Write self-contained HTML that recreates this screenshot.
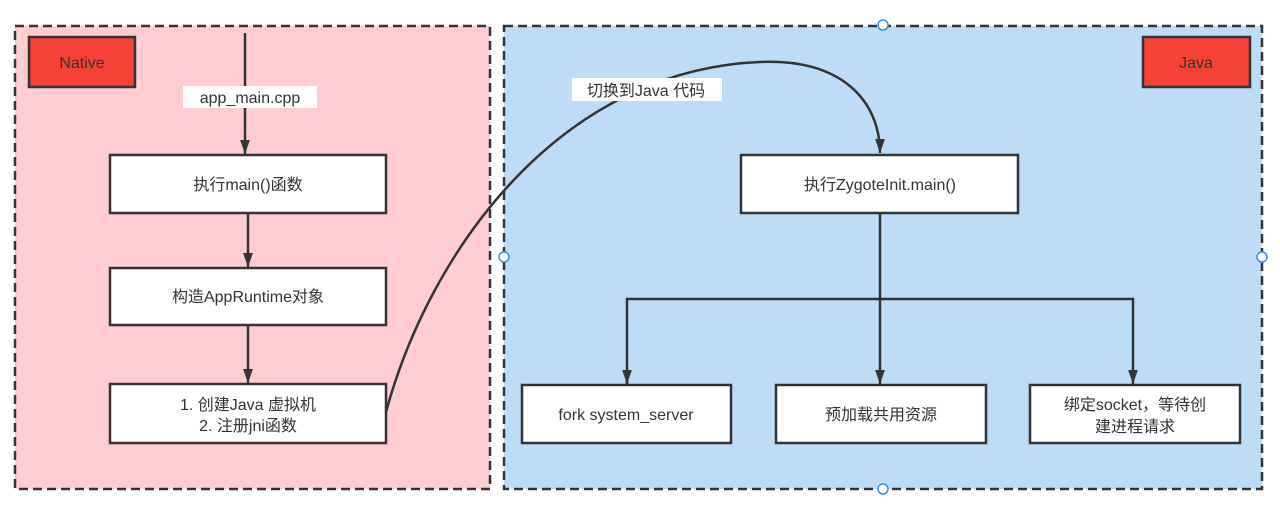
<!DOCTYPE html>
<html><head><meta charset="utf-8"><style>
body{margin:0;width:1280px;height:520px;background:#fff;overflow:hidden}
svg text{font-family:"Liberation Sans","Noto Sans CJK SC",sans-serif;font-size:16px;fill:#333}
</style></head><body>
<svg width="1280" height="520" xmlns="http://www.w3.org/2000/svg">
<defs><marker id="b" viewBox="0 0 10 10" refX="10" refY="5" markerWidth="14" markerHeight="14" orient="auto" markerUnits="userSpaceOnUse"><path d="M0,1.5 L10,5 L0,8.5 z" fill="#333"/></marker></defs>
<rect x="15" y="26" width="475" height="463" fill="#ffccd1" stroke="#333" stroke-width="2.5" stroke-dasharray="9,5"/>
<rect x="504" y="26" width="758" height="463" fill="#bcdcf8" stroke="#333" stroke-width="2.5" stroke-dasharray="9,5"/>
<rect x="29" y="37" width="106" height="50" fill="#f44336" stroke="#333" stroke-width="2.5"/>
<text x="82" y="68" text-anchor="middle">Native</text>
<rect x="1143" y="37" width="107" height="50" fill="#f44336" stroke="#333" stroke-width="2.5"/>
<text x="1196" y="68" text-anchor="middle">Java</text>
<g stroke="#333" stroke-width="2.5" fill="none">
<line x1="245" y1="33" x2="245" y2="154" marker-end="url(#b)"/>
<line x1="248" y1="213" x2="248" y2="267" marker-end="url(#b)"/>
<line x1="248" y1="325" x2="248" y2="383" marker-end="url(#b)"/>
<line x1="880" y1="213" x2="880" y2="384" marker-end="url(#b)"/>
<polyline points="627,384 627,299 1133,299 1133,384" marker-end="url(#b)"/>
<line x1="627" y1="370" x2="627" y2="384" marker-end="url(#b)"/>
<path d="M386,412 C430,250 560,70 760,62 C840,58 880,100 880,153" marker-end="url(#b)"/>
</g>
<rect x="183" y="86" width="134" height="22" fill="#fff"/>
<text x="250" y="103" text-anchor="middle">app_main.cpp</text>
<rect x="572" y="78" width="150" height="23" fill="#fff"/>
<text x="646" y="96" text-anchor="middle">切换到Java 代码</text>
<g fill="#fff" stroke="#333" stroke-width="2.5">
<rect x="110" y="155" width="276" height="58"/>
<rect x="110" y="268" width="276" height="57"/>
<rect x="110" y="384" width="276" height="59"/>
<rect x="741" y="155" width="277" height="58"/>
<rect x="522" y="385" width="209" height="58"/>
<rect x="776" y="385" width="210" height="58"/>
<rect x="1030" y="385" width="210" height="58"/>
</g>
<text x="248" y="190" text-anchor="middle">执行main()函数</text>
<text x="248" y="302" text-anchor="middle">构造AppRuntime对象</text>
<text x="248" y="410" text-anchor="middle">1. 创建Java 虚拟机</text>
<text x="248" y="431" text-anchor="middle">2. 注册jni函数</text>
<text x="880" y="190" text-anchor="middle">执行ZygoteInit.main()</text>
<text x="626" y="420" text-anchor="middle">fork system_server</text>
<text x="881" y="420" text-anchor="middle">预加载共用资源</text>
<text x="1135" y="410" text-anchor="middle">绑定socket，等待创</text>
<text x="1135" y="432" text-anchor="middle">建进程请求</text>
<g fill="#fff" stroke="#3d8fe0" stroke-width="1.5">
<circle cx="883" cy="25" r="5"/><circle cx="504" cy="257" r="5"/><circle cx="1262" cy="257" r="5"/><circle cx="883" cy="489" r="5"/>
</g>
</svg>
</body></html>
